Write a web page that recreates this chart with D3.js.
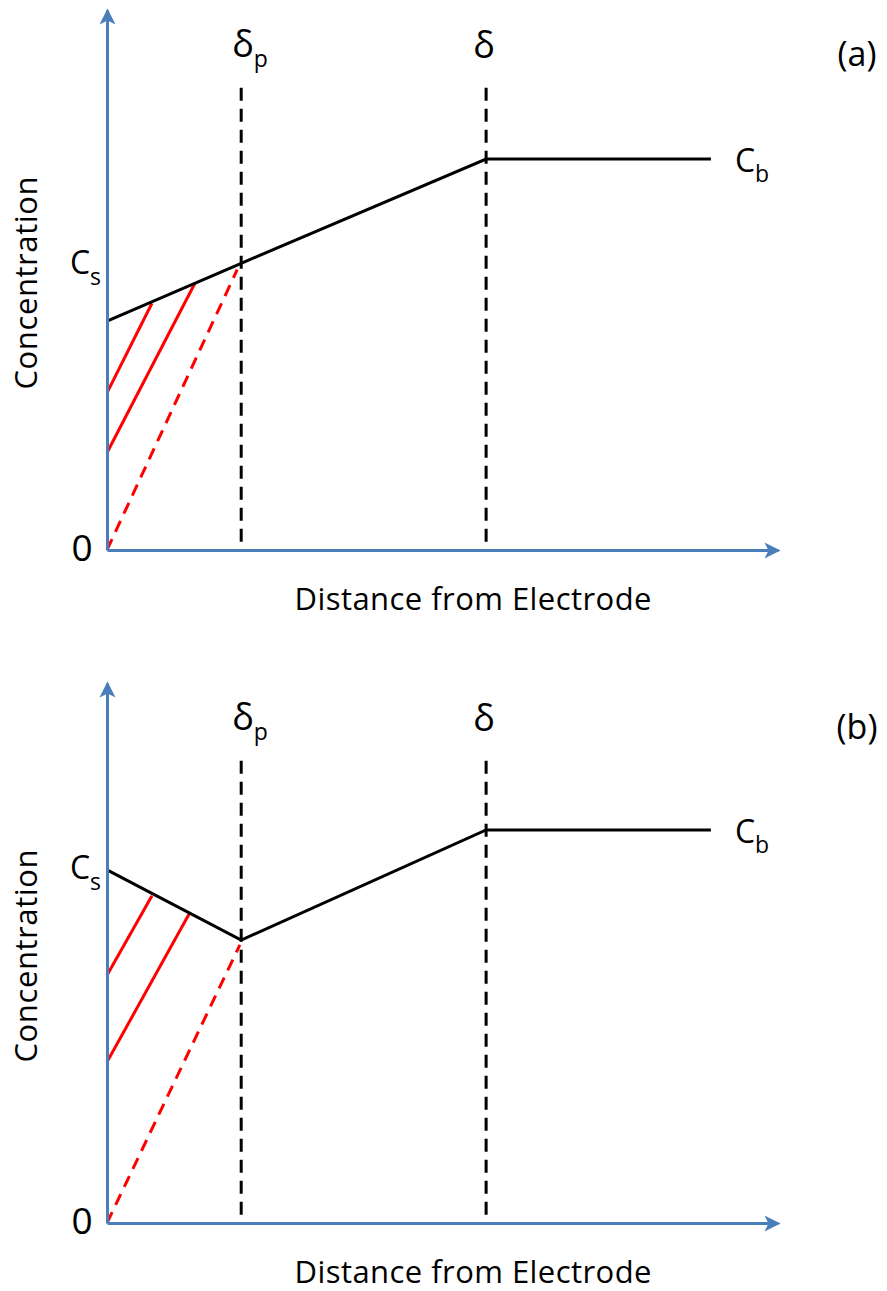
<!DOCTYPE html>
<html>
<head>
<meta charset="utf-8">
<script src="https://cdn.jsdelivr.net/npm/d3@7"></script>
<style>
  body { margin: 0; background: #fff; }
  text { font-family: "Open Sans", sans-serif; fill: #000; }
</style>
</head>
<body>
<div id="chart"></div>
<script>
// distance axis: electrode, delta_p, delta, end of bulk line
var xDomain = [0, 10];
var yDomain = [0, 100];
var xMarks = [0, 2.0, 5.65, 9.0];
var panelNames = ["(a)", "(b)"];

// black concentration profiles, one value per xMark
var profileA = [42.4, 53.1, 72.4, 72.4];
var profileB = [65.4, 52.4, 72.8, 72.8];

// level where the C_s label sits
var surfaceLevels = [53, 65.5];
var guideTop = 85.6;

// red dashed line from the origin to just under the kink
var redDashedA = [[0, 0], [1.94, 51.9]];
var redDashedB = [[0, 0], [1.98, 51.5]];

// red solid hatch lines
var redSolidA = [[[0, 29.1], [0.67, 45.7]], [[0, 18.0], [1.31, 49.4]]];
var redSolidB = [[[0, 45.9], [0.67, 60.6]], [[0, 29.8], [1.24, 57.6]]];

var width = 887, height = 1291;
var blue = "#4a7ebb";
var panelOffset = 673;

var x = d3.scaleLinear().domain(xDomain).range([107, 778]);
var y = d3.scaleLinear().domain(yDomain).range([550, 10]);

var svg = d3.select("#chart").append("svg")
    .attr("width", width)
    .attr("height", height);

svg.append("defs").append("marker")
    .attr("id", "arrow")
    .attr("markerUnits", "userSpaceOnUse")
    .attr("viewBox", "-18 -10 20 20")
    .attr("markerWidth", 20)
    .attr("markerHeight", 20)
    .attr("refX", -2)
    .attr("refY", 0)
    .attr("orient", "auto")
  .append("path")
    .attr("d", "M0,0L-16,-8L-12,0L-16,8Z")
    .attr("fill", blue);

var line = d3.line()
    .x(function(d) { return x(d[0]); })
    .y(function(d) { return y(d[1]); });

function drawPanel(g, name, profile, surfaceLevel, redDashed, redSolid) {

  // dashed guides at delta_p and delta
  g.selectAll(".guide")
    .data([xMarks[1], xMarks[2]])
    .enter()
    .append("line")
      .attr("class", "guide")
      .attr("x1", function(d) { return x(d); })
      .attr("x2", function(d) { return x(d); })
      .attr("y1", y(guideTop))
      .attr("y2", y(0))
      .attr("stroke", "#000")
      .attr("stroke-width", 3)
      .attr("stroke-dasharray", "13,8");

  g.append("path")
    .datum(redDashed)
    .attr("d", line)
    .attr("fill", "none")
    .attr("stroke", "#ff0000")
    .attr("stroke-width", 3)
    .attr("stroke-dasharray", "12,8");

  g.selectAll(".hatch")
    .data(redSolid)
    .enter()
    .append("path")
      .attr("class", "hatch")
      .attr("d", line)
      .attr("fill", "none")
      .attr("stroke", "#ff0000")
      .attr("stroke-width", 3);

  g.append("path")
    .datum(xMarks.map(function(d, i) { return [d, profile[i]]; }))
    .attr("d", line)
    .attr("fill", "none")
    .attr("stroke", "#000")
    .attr("stroke-width", 3)
    .attr("stroke-linejoin", "miter");

  // axes, no ticks, blue with arrows
  var xAxis = g.append("g")
    .attr("transform", "translate(0," + y(0) + ")")
    .call(d3.axisBottom(x).tickValues([]).tickSizeOuter(0));
  var yAxis = g.append("g")
    .attr("transform", "translate(" + x(0) + ",0)")
    .call(d3.axisLeft(y).tickValues([]).tickSizeOuter(0));
  [xAxis, yAxis].forEach(function(a) {
    a.select(".domain")
      .attr("stroke", blue)
      .attr("stroke-width", 3)
      .attr("marker-end", "url(#arrow)");
  });

  // labels
  g.append("text")
    .attr("x", x(0) - 25)
    .attr("y", y(0) + 11)
    .attr("text-anchor", "middle")
    .style("font-size", "37px")
    .text("0");

  var cs = g.append("text")
    .attr("x", x(0) - 6)
    .attr("y", y(surfaceLevel) + 10)
    .attr("text-anchor", "end")
    .style("font-size", "32px");
  cs.append("tspan").text("C");
  cs.append("tspan").attr("dy", 11).style("font-size", "23px").text("s");

  var cb = g.append("text")
    .attr("x", x(xMarks[3]) + 24)
    .attr("y", y(profile[3]) + 13)
    .style("font-size", "32px");
  cb.append("tspan").text("C");
  cb.append("tspan").attr("dy", 10).style("font-size", "23px").text("b");

  var dp = g.append("text")
    .attr("x", x(xMarks[1]) - 9)
    .attr("y", 57)
    .style("font-size", "36px");
  dp.append("tspan").text("δ");
  dp.append("tspan").attr("dy", 10).style("font-size", "23px").text("p");

  g.append("text")
    .attr("x", x(xMarks[2]) - 2)
    .attr("y", 58)
    .attr("text-anchor", "middle")
    .style("font-size", "36px")
    .text("δ");

  g.append("text")
    .attr("x", 857)
    .attr("y", 66)
    .attr("text-anchor", "middle")
    .style("font-size", "34px")
    .text(name);

  g.append("text")
    .attr("transform", "translate(37,283) rotate(-90)")
    .attr("text-anchor", "middle")
    .attr("textLength", 213)
    .style("font-size", "31px")
    .text("Concentration");

  g.append("text")
    .attr("x", 473)
    .attr("y", 610)
    .attr("text-anchor", "middle")
    .attr("textLength", 357)
    .style("font-size", "31px")
    .text("Distance from Electrode");
}

drawPanel(svg.append("g"), panelNames[0], profileA, surfaceLevels[0], redDashedA, redSolidA);
drawPanel(svg.append("g").attr("transform", "translate(0," + panelOffset + ")"),
  panelNames[1], profileB, surfaceLevels[1], redDashedB, redSolidB);
</script>
</body>
</html>
